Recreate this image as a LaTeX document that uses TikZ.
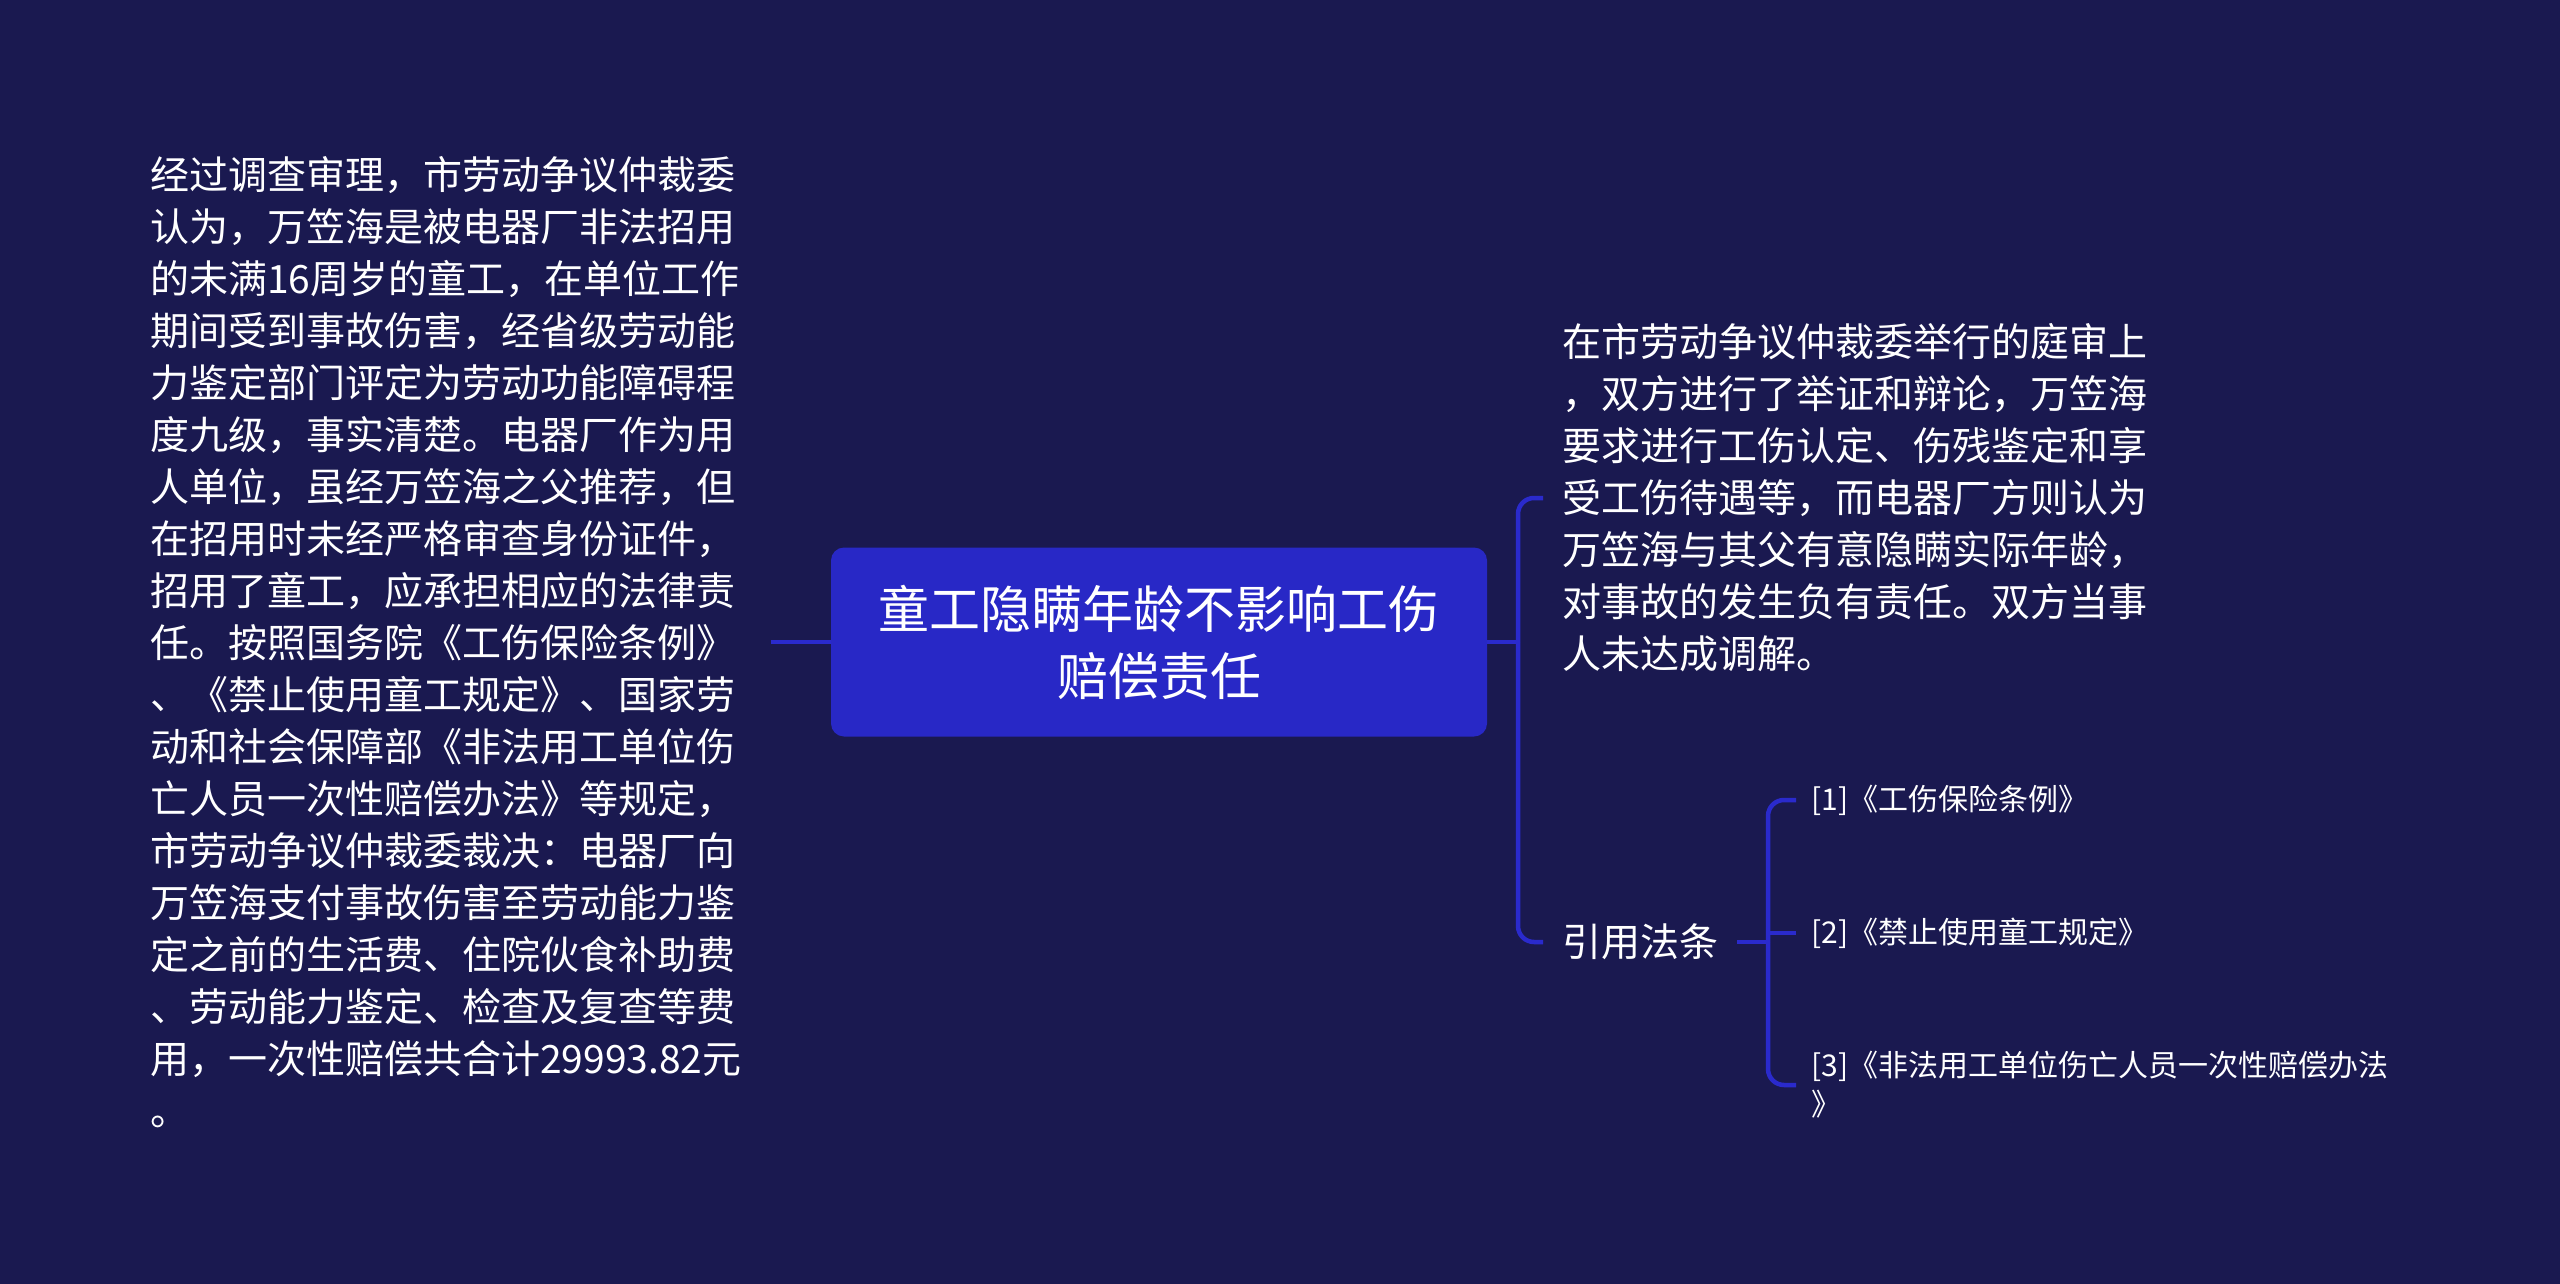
\documentclass[tikz,border=0pt]{standalone}
\usepackage{fontspec}
\setmainfont{Noto Sans CJK SC}
\usetikzlibrary{calc}
\definecolor{bgcol}{HTML}{1A1950}
\definecolor{boxfill}{HTML}{2828C6}
\definecolor{conncol}{HTML}{2A2ACC}
\begin{document}
\begin{tikzpicture}[x=1pt,y=-1pt,
  conn/.style={draw=conncol, line width=4.5pt},
  rc/.style={conn, rounded corners=16pt},
  body/.style={text=white, font=\fontsize{39}{52}\selectfont, align=left, inner ysep=0pt},
  small/.style={text=white, font=\fontsize{30}{39}\selectfont, align=left, inner ysep=0pt, inner xsep=15pt},
  rootbox/.style={fill=boxfill, rounded corners=13pt, minimum width=656pt, minimum height=189pt,
    text=white, font=\fontsize{51}{67}\selectfont, align=center, inner sep=0pt}
]
\fill[bgcol] (0,0) rectangle (2560,1284);
\useasboundingbox (0,0) rectangle (2560,1284);

\node[rootbox] (root) at (1159,642) {童工隐瞒年龄不影响工伤\\赔偿责任};

\node[body, anchor=west, inner xsep=29pt] (left) at (121,642) {经过调查审理，市劳动争议仲裁委\\认为，万笠海是被电器厂非法招用\\的未满16周岁的童工，在单位工作\\期间受到事故伤害，经省级劳动能\\力鉴定部门评定为劳动功能障碍程\\度九级，事实清楚。电器厂作为用\\人单位，虽经万笠海之父推荐，但\\在招用时未经严格审查身份证件，\\招用了童工，应承担相应的法律责\\任。按照国务院《工伤保险条例》\\、《禁止使用童工规定》、国家劳\\动和社会保障部《非法用工单位伤\\亡人员一次性赔偿办法》等规定，\\市劳动争议仲裁委裁决：电器厂向\\万笠海支付事故伤害至劳动能力鉴\\定之前的生活费、住院伙食补助费\\、劳动能力鉴定、检查及复查等费\\用，一次性赔偿共合计29993.82元\\。};

\node[body, anchor=west, inner xsep=19pt] (t1) at (1543,498) {在市劳动争议仲裁委举行的庭审上\\，双方进行了举证和辩论，万笠海\\要求进行工伤认定、伤残鉴定和享\\受工伤待遇等，而电器厂方则认为\\万笠海与其父有意隐瞒实际年龄，\\对事故的发生负有责任。双方当事\\人未达成调解。};

\node[body, anchor=west, inner xsep=19pt] (law) at (1543,942) {引用法条};

\node[small, anchor=west] (c1) at (1796,800) {[1]《工伤保险条例》};
\node[small, anchor=west] (c2) at (1796,933) {[2]《禁止使用童工规定》};
\node[small, anchor=west] (c3) at (1796,1085) {[3]《非法用工单位伤亡人员一次性赔偿办法\\》};

\coordinate (j1) at (1518,642);
\coordinate (j2) at (1768,942);

\draw[conn] (root.west) -- (left.east);
\draw[conn] (root.east) -- (j1);
\draw[rc] (j1) |- (t1.west);
\draw[rc] (j1) |- (law.west);

\draw[conn] (law.east) -- (j2);
\draw[rc] (j2) |- (c1.west);
\draw[rc] (j2) |- (c3.west);
\draw[conn] (c2.west -| j2) -- (c2.west);
\end{tikzpicture}
\end{document}
